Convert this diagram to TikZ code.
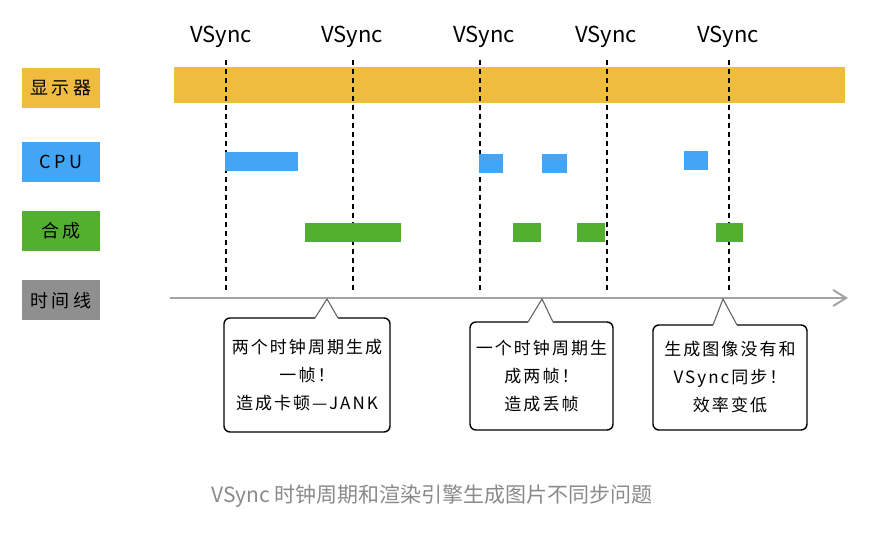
\documentclass[tikz,border=0pt]{standalone}
\usepackage{fontspec}
\setmainfont{Noto Sans CJK SC}
\newfontfamily\handfont[LetterSpace=12]{Noto Sans CJK SC}
\newfontfamily\lanefont[LetterSpace=22]{Noto Sans CJK SC}
\usetikzlibrary{arrows.meta,positioning}
\definecolor{vyellow}{HTML}{F0BC3D}
\definecolor{vblue}{HTML}{42A5F5}
\definecolor{vgreen}{HTML}{53AF2F}
\definecolor{vgray}{HTML}{8F8F8F}
\definecolor{vline}{HTML}{A3A3A3}
\definecolor{vcap}{HTML}{8A8A8A}
\tikzset{
  lane/.style={minimum width=78pt, minimum height=40pt, inner sep=0pt,
               font=\lanefont\fontsize{18}{20}\selectfont},
  vsync/.style={font=\fontsize{22}{24}\selectfont, inner sep=0pt},
  tick/.style={draw=black, line width=2.3pt, dash pattern=on 5pt off 4pt},
  timeline/.style={draw=vline, line width=2pt, -{Straight Barb[length=13pt, width=16pt, line width=2pt]}},
  bubble/.style={draw=black, line width=1.4pt, rounded corners=6pt, align=center, inner sep=0pt,
                 font=\handfont\fontsize{17}{28}\selectfont},
  ptr/.style={draw=black!60, line width=1.1pt},
  caption/.style={font=\fontsize{21}{23}\selectfont, text=vcap},
}

\begin{document}
\begin{tikzpicture}[x=1pt, y=-1pt]
  \useasboundingbox (0,0) rectangle (870,537);
  % lanes
  \node[lane, fill=vyellow] (disp) at (61,88) {显示器};
  \node[lane, fill=vblue, below=34pt of disp] (cpu) {CPU};
  \node[lane, fill=vgreen, below=28pt of cpu] (comp) {合成};
  \node[lane, fill=vgray, below=29pt of comp] (tline) {时间线};

  \fill[vyellow] (174,67) rectangle (845,103);

  % vsync ticks
  \foreach \x/\lx [count=\i] in {226/221,353/352,480/484,607/606,729/728}{
    \node[vsync] (vs\i) at (\lx,37) {VSync};
    \draw[tick] (\x,60) -- (\x,290);
  }

  % cpu and compositor work
  \foreach \a/\b/\t in {225/298/152,479/503/154,542/567/154,684/708/151}
    \fill[vblue] (\a,\t) rectangle (\b,\t+19);
  \foreach \a/\b in {305/401,513/541,577/605,716/743}
    \fill[vgreen] (\a,223) rectangle (\b,242);

  \coordinate (tstart) at (170,298);
  \coordinate (tend) at (848,298);
  \draw[timeline] (tstart) -- (tend);

  % callouts
  \node[bubble, minimum width=166pt, minimum height=114pt] (c1) at (307,375)
    {两个时钟周期生成\\一帧！\\造成卡顿—JANK};
  \node[bubble, minimum width=143pt, minimum height=108pt] (c2) at (541.5,376)
    {一个时钟周期生\\成两帧！\\造成丢帧};
  \node[bubble, minimum width=154pt, minimum height=105pt] (c3) at (730,377.5)
    {生成图像没有和\\VSync同步！\\效率变低};
  \coordinate (t1) at (327,299);
  \coordinate (t2) at (542,299);
  \coordinate (t3) at (723,299);
  \foreach \a/\b/\y/\t in {315/338/318/t1,528/553/322/t2,713/737/325/t3}{
    \fill[white] (\a,\y-2) rectangle (\b,\y+2);
    \draw[ptr] (\a,\y) -- (\t) -- (\b,\y);
  }

  \node[caption] (cap) at (432,496) {VSync 时钟周期和渲染引擎生成图片不同步问题};
\end{tikzpicture}
\end{document}
